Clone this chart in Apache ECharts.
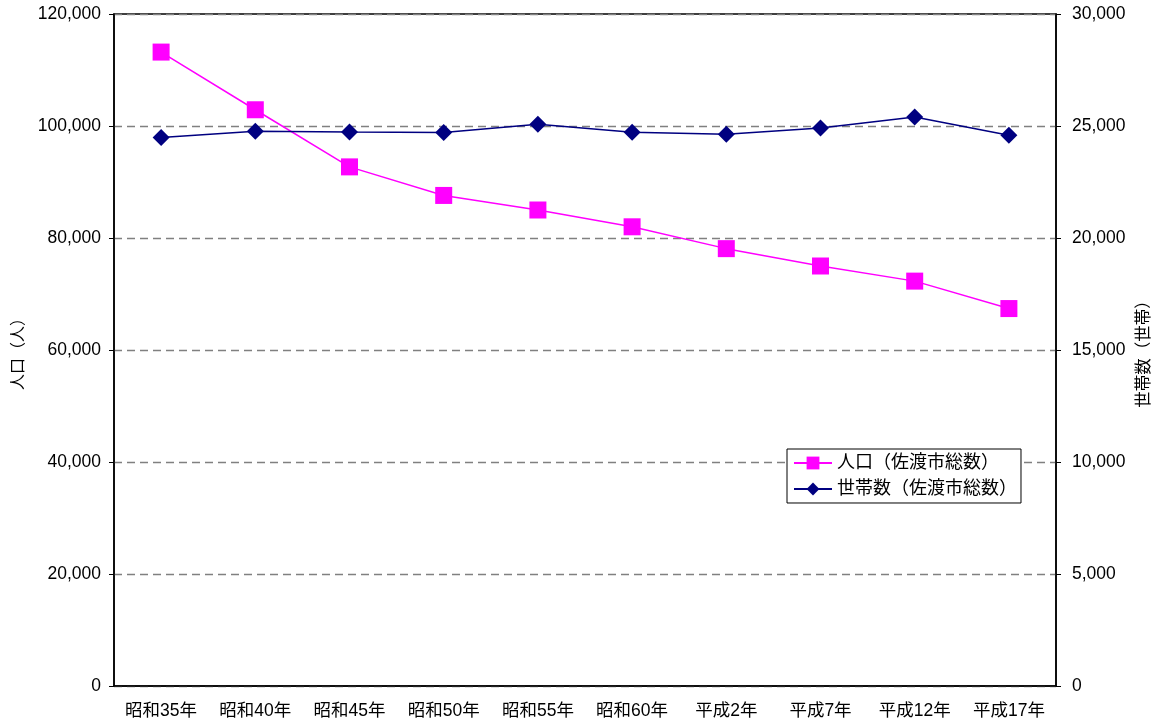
<!DOCTYPE html>
<html>
<head>
<meta charset="utf-8">
<script src="https://cdn.jsdelivr.net/npm/echarts@6/dist/echarts.min.js"></script>
<style>
  html, body { margin: 0; padding: 0; background: #fff; }
  #chart { width: 1160px; height: 727px; }
</style>
</head>
<body>
<div id="chart"></div>
<script>
// 佐渡市の人口・世帯数の推移
const categories = ['昭和35年', '昭和40年', '昭和45年', '昭和50年', '昭和55年', '昭和60年', '平成2年', '平成7年', '平成12年', '平成17年'];
const population = [113200, 102900, 92700, 87600, 85000, 82000, 78100, 75000, 72300, 67400];
const households = [24490, 24770, 24730, 24710, 25080, 24720, 24630, 24910, 25400, 24590];

const FONT = '"Liberation Sans", Arial, "Noto Sans CJK JP", sans-serif';
const fmt = v => v.toLocaleString('en-US');

const chart = echarts.init(document.getElementById('chart'), null, { renderer: 'canvas' });

chart.setOption({
  backgroundColor: '#ffffff',
  animation: false,
  textStyle: { fontFamily: FONT, color: '#000' },
  grid: {
    left: 114, right: 104, top: 14, bottom: 41,
    outerBoundsMode: 'none',
    containLabel: false,
    show: true, borderColor: '#000', borderWidth: 1.5, backgroundColor: 'transparent'
  },
  legend: {
    orient: 'vertical',
    left: 787,
    top: 449,
    backgroundColor: '#fff',
    borderColor: '#000',
    borderWidth: 1,
    borderRadius: 0,
    padding: [5, 4, 5, 6],
    itemGap: 8,
    itemWidth: 38,
    itemHeight: 16,
    textStyle: { fontFamily: FONT, fontSize: 18, color: '#000' },
    data: ['人口（佐渡市総数）', '世帯数（佐渡市総数）']
  },
  xAxis: {
    type: 'category',
    data: categories,
    boundaryGap: true,
    axisLine: { lineStyle: { color: '#000', width: 1.5 } },
    axisTick: { inside: true, length: 6, lineStyle: { color: '#000' } },
    axisLabel: { fontFamily: FONT, fontSize: 17.5, color: '#000', margin: 16, interval: 0 }
  },
  yAxis: [
    {
      type: 'value',
      min: 0, max: 120000, interval: 20000,
      name: '人口（人）',
      nameLocation: 'middle',
      nameRotate: 90,
      nameGap: 86,
      nameTextStyle: { fontFamily: FONT, fontSize: 16, color: '#000' },
      axisLine: { show: true, lineStyle: { color: '#000', width: 1.5 } },
      axisTick: { show: true, length: 5, lineStyle: { color: '#000' } },
      axisLabel: { fontFamily: FONT, fontSize: 17.5, color: '#000', margin: 13, formatter: fmt },
      splitLine: { show: true, lineStyle: { color: '#808080', type: [8, 5], width: 1.3 } }
    },
    {
      type: 'value',
      min: 0, max: 30000, interval: 5000,
      name: '世帯数（世帯）',
      nameLocation: 'middle',
      nameRotate: 90,
      nameGap: 74,
      nameTextStyle: { fontFamily: FONT, fontSize: 16.5, color: '#000' },
      axisLine: { show: true, lineStyle: { color: '#000', width: 1.5 } },
      axisTick: { show: true, length: 5, lineStyle: { color: '#000' } },
      axisLabel: { fontFamily: FONT, fontSize: 17.5, color: '#000', margin: 16, formatter: fmt },
      splitLine: { show: false }
    }
  ],
  series: [
    {
      name: '人口（佐渡市総数）',
      type: 'line',
      yAxisIndex: 0,
      data: population,
      symbol: 'rect',
      symbolSize: 17,
      itemStyle: { color: '#FF00FF' },
      lineStyle: { color: '#FF00FF', width: 1.5 },
      z: 3
    },
    {
      name: '世帯数（佐渡市総数）',
      type: 'line',
      yAxisIndex: 1,
      data: households,
      symbol: 'diamond',
      symbolSize: 17,
      itemStyle: { color: '#000080' },
      lineStyle: { color: '#000080', width: 1.5 },
      z: 4
    }
  ]
});
</script>
</body>
</html>
